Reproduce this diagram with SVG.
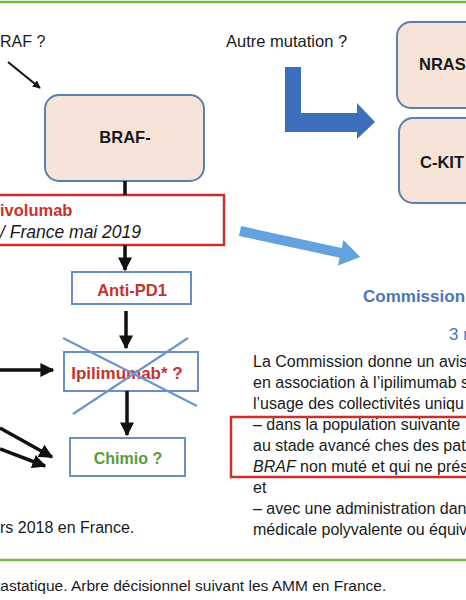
<svg xmlns="http://www.w3.org/2000/svg" width="466" height="600" viewBox="0 0 466 600">
<defs>
<style>
text{font-family:"Liberation Sans",Arial,sans-serif;font-size:16px;fill:#1a1a1a}
.b{font-weight:bold}
.red{fill:#c8322e}
.grn{fill:#5a9a3a}
.blu{fill:#4a76b8}
.peach{fill:#f7e4d9;stroke:#5b7fae;stroke-width:2}
.bbox{fill:#ffffff;stroke:#6a8fc4;stroke-width:2}
.rbox{fill:none;stroke:#c8322e;stroke-width:2.5}
.conn{stroke:#111;stroke-width:3.5;fill:none}
.rule{stroke:#7ab648;stroke-width:2.5}
</style>
<marker id="ah" viewBox="0 0 10 10" refX="9" refY="5" markerWidth="4" markerHeight="4" markerUnits="strokeWidth" orient="auto">
<path d="M0,0 L10,5 L0,10 z" fill="#111"/>
</marker>
</defs>
<rect width="466" height="600" fill="#ffffff"/>
<line class="rule" x1="0" y1="2" x2="466" y2="2"/>
<line class="rule" x1="0" y1="560" x2="466" y2="560"/>

<g id="label-braf"><text x="0" y="47">RAF ?</text></g>
<g id="label-autre"><text x="226" y="47" style="font-size:16.5px">Autre mutation ?</text></g>

<g id="node-braf-neg">
<rect class="peach" x="45" y="95" width="159" height="86" rx="14"/>
<text class="b" x="125" y="143" text-anchor="middle" style="font-size:16.5px">BRAF-</text>
</g>
<g id="node-nras">
<rect class="peach" x="397" y="22" width="90" height="86" rx="14"/>
<text class="b" x="419" y="70" style="font-size:16.5px">NRAS</text>
</g>
<g id="node-ckit">
<rect class="peach" x="399" y="118" width="90" height="85" rx="14"/>
<text class="b" x="420" y="168" style="font-size:16.5px">C-KIT</text>
</g>

<g id="node-nivolumab">
<rect class="rbox" x="-5" y="195" width="229" height="50"/>
<text class="b red" x="0" y="216" style="font-size:16.5px">ivolumab</text>
<text x="0" y="238" style="font-style:italic;font-size:17.5px">/ France mai 2019</text>
</g>

<g id="node-antipd1">
<rect class="bbox" x="72" y="272" width="119" height="32"/>
<text class="b red" x="132" y="296" text-anchor="middle" style="font-size:16.5px">Anti-PD1</text>
</g>

<g id="node-ipilimumab">
<rect class="bbox" x="64" y="352" width="134" height="39"/>
<text class="b red" x="127" y="379" text-anchor="middle" style="font-size:17px">Ipilimumab* ?</text>
<line x1="63" y1="338" x2="197" y2="406" stroke="#6f96cc" stroke-width="2.2"/>
<line x1="188" y1="338" x2="73" y2="414" stroke="#6f96cc" stroke-width="2.2"/>
</g>

<g id="node-chimio">
<rect class="bbox" x="70" y="438" width="115" height="38"/>
<text class="b grn" x="128" y="464" text-anchor="middle">Chimio ?</text>
</g>

<g id="connectors">
<line class="conn" x1="8" y1="62" x2="40" y2="88" style="stroke-width:2" marker-end="url(#ah)"/>
<line class="conn" x1="125" y1="181" x2="125" y2="195"/>
<line class="conn" x1="125" y1="245" x2="125" y2="270" marker-end="url(#ah)"/>
<line class="conn" x1="126" y1="311" x2="126" y2="348" marker-end="url(#ah)"/>
<line class="conn" x1="0" y1="370" x2="53" y2="370" marker-end="url(#ah)"/>
<line class="conn" x1="127" y1="391" x2="127" y2="435" marker-end="url(#ah)"/>
<line class="conn" x1="0" y1="428" x2="52" y2="457" marker-end="url(#ah)"/>
<line class="conn" x1="0" y1="449" x2="45" y2="466" marker-end="url(#ah)"/>
<path d="M285,67 L301,67 L301,113 L357,113 L357,103 L375,122 L357,139 L357,132 L285,132 Z" fill="#3d6fbd"/>
<g transform="translate(240,231) rotate(12.2)">
<path d="M0,-5 L103,-5 L103,-13 L123,0 L103,13 L103,5 L0,5 Z" fill="#62a3de"/>
</g>
</g>

<g id="commission">
<text class="b blu" x="363" y="302" style="font-size:17px">Commission</text>
<text class="blu" x="449" y="340" style="font-size:17px">3 m</text>
<text x="253" y="367">La Commission donne un avis</text>
<text x="253" y="388">en association à l’ipilimumab s</text>
<text x="253" y="409">l’usage des collectivités uniqu</text>
<text x="253" y="430">– dans la population suivante :</text>
<text x="253" y="451">au stade avancé ches des pati</text>
<text x="253" y="472"><tspan style="font-style:italic">BRAF</tspan> non muté et qui ne prése</text>
<text x="253" y="493">et</text>
<text x="253" y="514">– avec une administration dan</text>
<text x="253" y="535">médicale polyvalente ou équiv</text>
<rect class="rbox" x="231" y="417" width="245" height="60"/>
</g>

<g id="notes">
<text x="0" y="533">rs 2018 en France.</text>
<text x="-4" y="591" style="font-size:15.5px">tastatique. Arbre décisionnel suivant les AMM en France.</text>
</g>
</svg>
